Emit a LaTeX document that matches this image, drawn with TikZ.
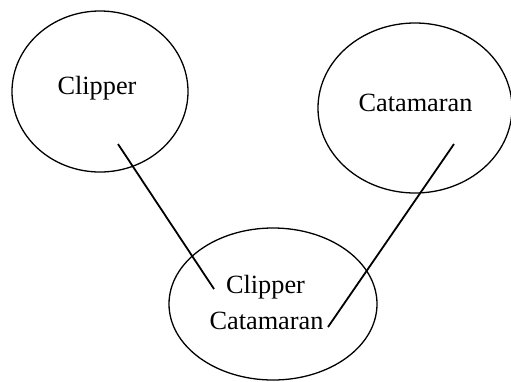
\documentclass[tikz,border=0pt]{standalone}
\usepackage{fontspec}
\setmainfont{Liberation Serif}
\usetikzlibrary{shapes.geometric}
\begin{document}
\begin{tikzpicture}[x=1pt,y=-1pt,
  set/.style={draw, ellipse, line width=1.3pt, inner sep=0pt, outer sep=0pt},
  lbl/.style={anchor=base, inner sep=0pt, font=\fontsize{26.3}{36}\selectfont},
  link/.style={line width=1.8pt}]
\useasboundingbox (0,0) rectangle (511,381);
% the three sets
\node[set, minimum width=176pt, minimum height=161pt] (clip) at (100,91.5) {};
\node[set, minimum width=194pt, minimum height=170pt] (cat) at (415,108) {};
\node[set, minimum width=208pt, minimum height=152pt] (both) at (273,304) {};
% labels
\node[lbl] (clipT) at (97,94) {Clipper};
\node[lbl] (catT) at (415.5,111) {Catamaran};
\node[lbl] (bothA) at (265.5,293) {Clipper};
\node[lbl] (bothB) at (266.5,329) {Catamaran};
% links from each set to the combined set
\coordinate (l1a) at (118,144);
\coordinate (l1b) at (214,289);
\coordinate (l2a) at (454,144);
\coordinate (l2b) at (328,327);
\draw[link] (l1a) -- (l1b);
\draw[link] (l2a) -- (l2b);
\end{tikzpicture}
\end{document}
